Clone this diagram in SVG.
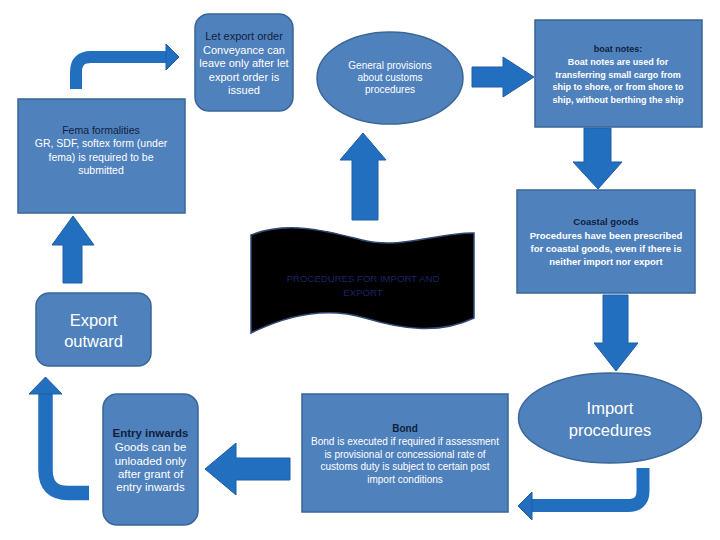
<svg xmlns="http://www.w3.org/2000/svg" width="720" height="540" viewBox="0 0 720 540">
<style>
.box{fill:#4f81bd;stroke:#3a6698;stroke-width:1.5}
.arr{fill:#236fbf;stroke:#1c5ea6;stroke-width:1}
.band{fill:none;stroke:#236fbf}
.t{font-family:"Liberation Sans",Arial,sans-serif;text-anchor:middle}
.w{fill:#ffffff}
.d{fill:#0f1f3d}
.b{font-weight:bold}
</style>
<rect width="720" height="540" fill="#ffffff"/>
<g id="connectors">
  <path class="band" stroke-width="12" d="M76,89 V72 Q76,57 91,57 H167"/>
  <polygon class="arr" points="166,44 179,57 166,70"/>
  <polygon class="arr" points="472,67 503,67 503,57 534,77 503,97 503,87 472,87"/>
  <polygon class="arr" points="584,128 611,128 611,162 622,162 598,189 573,162 584,162"/>
  <polygon class="arr" points="603,295 628,295 628,343 638,343 616,371 594,343 603,343"/>
  <path class="band" stroke-width="13" d="M643,468 V491 Q643,505.5 628,505.5 H531"/>
  <polygon class="arr" points="532,492 518,506 532,520"/>
  <polygon class="arr" points="290,458 236,458 236,443 205,469 236,495 236,480 290,480"/>
  <path class="band" stroke-width="14.5" d="M89,493 H68 Q45.5,493 45.5,470 V392"/>
  <polygon class="arr" points="29,394 45.5,377 62,394"/>
  <polygon class="arr" points="63,283 82,283 82,245 94,245 73,216 52,245 63,245"/>
  <polygon class="arr" points="352,220 378,220 378,160 386,160 363,133 340,160 352,160"/>
</g>
<g id="let-export-order">
  <rect class="box" x="195" y="14" width="98" height="97" rx="14"/>
  <text class="t" font-size="11"><tspan class="d" x="244" y="40">Let export order</tspan><tspan class="w" x="244" y="53.5">Conveyance can</tspan><tspan class="w" x="244" y="67">leave only after let</tspan><tspan class="w" x="244" y="80.5">export order is</tspan><tspan class="w" x="244" y="94">issued</tspan></text>
</g>
<g id="general-provisions">
  <ellipse class="box" cx="390" cy="78" rx="73" ry="46"/>
  <text class="t w" font-size="10"><tspan x="390" y="69">General provisions</tspan><tspan x="390" y="81">about customs</tspan><tspan x="390" y="93">procedures</tspan></text>
</g>
<g id="boat-notes">
  <rect class="box" x="535" y="20" width="167" height="107"/>
  <text class="t b" font-size="9"><tspan class="d" x="618" y="52">boat notes:</tspan><tspan class="w" x="618" y="65">Boat notes are used for</tspan><tspan class="w" x="618" y="77.5">transferring small cargo from</tspan><tspan class="w" x="618" y="90">ship to shore, or from shore to</tspan><tspan class="w" x="618" y="103">ship, without berthing the ship</tspan></text>
</g>
<g id="fema">
  <rect class="box" x="18" y="99" width="167" height="114"/>
  <text class="t" font-size="10.5"><tspan class="d" x="101" y="134">Fema formalities</tspan><tspan class="w" x="101" y="147">GR, SDF, softex form (under</tspan><tspan class="w" x="101" y="160.5">fema) is required to be</tspan><tspan class="w" x="101" y="174">submitted</tspan></text>
</g>
<g id="banner">
  <path d="M251,235 C290,220 330,232 362,240 C400,250 440,232 474,233 L474,318 C440,334 405,330 365,318 C325,306 285,316 251,333 Z" fill="#000000" stroke="#2f4a75" stroke-width="1.5"/>
  <text class="t" font-size="9.6" fill="#1b2466"><tspan x="363" y="282">PROCEDURES FOR IMPORT AND</tspan><tspan x="363" y="296">EXPORT</tspan></text>
</g>
<g id="coastal-goods">
  <rect class="box" x="517" y="190" width="178" height="103"/>
  <text class="t b" font-size="9.5"><tspan class="d" x="606" y="225">Coastal goods</tspan><tspan class="w" x="606" y="238.5">Procedures have been prescribed</tspan><tspan class="w" x="606" y="251.5">for coastal goods, even if there is</tspan><tspan class="w" x="606" y="264.5">neither import nor export</tspan></text>
</g>
<g id="export-outward">
  <rect class="box" x="36" y="293" width="115" height="73" rx="13"/>
  <text class="t w" font-size="16.5"><tspan x="93.5" y="326">Export</tspan><tspan x="93.5" y="347">outward</tspan></text>
</g>
<g id="import-procedures">
  <ellipse class="box" cx="610" cy="418" rx="91.5" ry="45"/>
  <text class="t w" font-size="16.5"><tspan x="610" y="414">Import</tspan><tspan x="610" y="436">procedures</tspan></text>
</g>
<g id="bond">
  <rect class="box" x="302" y="394" width="206" height="118"/>
  <text class="t" font-size="10"><tspan class="d b" x="405" y="432">Bond</tspan><tspan class="w" x="405" y="445">Bond is executed if required if assessment</tspan><tspan class="w" x="405" y="457.5">is provisional or concessional rate of</tspan><tspan class="w" x="405" y="470">customs duty is subject to certain post</tspan><tspan class="w" x="405" y="483">import conditions</tspan></text>
</g>
<g id="entry-inwards">
  <rect class="box" x="103" y="394" width="95" height="131" rx="14"/>
  <text class="t" font-size="11.5"><tspan class="d b" x="150.5" y="437">Entry inwards</tspan><tspan class="w" x="150.5" y="451">Goods can be</tspan><tspan class="w" x="150.5" y="464.5">unloaded only</tspan><tspan class="w" x="150.5" y="477.5">after grant of</tspan><tspan class="w" x="150.5" y="491">entry inwards</tspan></text>
</g>
</svg>
